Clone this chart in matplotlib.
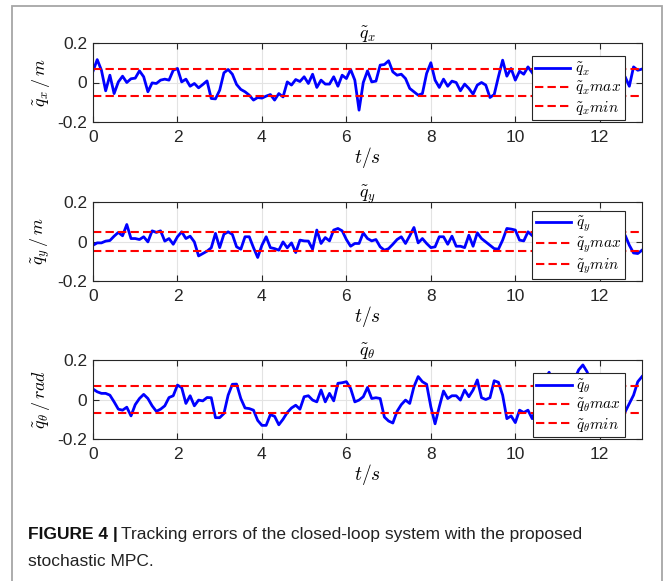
"""
plot.py
Tracking errors of the closed-loop system (three stacked panels) with caption.
"""

import numpy as np
import matplotlib
matplotlib.use('Agg')
import matplotlib.pyplot as plt
from matplotlib.patches import Rectangle

plt.rcParams['font.family'] = ['Liberation Sans', 'DejaVu Sans']
plt.rcParams['mathtext.fontset'] = 'cm'

# ---------- Data (0.1 s sampling) ----------
t = np.round(np.arange(0, 131) * 0.1, 1)

q_x = [0.057, 0.116, 0.062, -0.042, 0.037, -0.056, 0.003, 0.032, 0.000, 0.019,
       0.022, 0.059, 0.029, -0.047, -0.002, -0.005, 0.012, 0.017, 0.012, 0.062,
       0.071, 0.003, 0.017, -0.019, -0.005, -0.027, -0.010, 0.008, -0.081, -0.083,
       -0.039, 0.049, 0.066, 0.042, -0.010, -0.035, -0.047, -0.064, -0.089, -0.076,
       -0.079, -0.069, -0.061, -0.089, -0.056, -0.073, 0.003, -0.013, 0.015, 0.005,
       0.029, -0.005, 0.042, -0.025, 0.012, -0.008, -0.008, 0.029, -0.019, 0.037,
       0.020, 0.066, 0.012, -0.140, 0.000, 0.059, 0.003, 0.007, 0.088, 0.091,
       0.110, 0.054, 0.037, 0.042, 0.020, -0.030, -0.047, -0.064, -0.056, 0.046,
       0.100, 0.012, -0.025, 0.017, -0.019, 0.007, 0.000, -0.042, -0.008, -0.030,
       -0.059, -0.013, 0.000, -0.013, -0.076, -0.061, 0.029, 0.113, 0.032, 0.071,
       0.012, 0.057, 0.042, 0.079, 0.050, 0.020, 0.060, -0.010, 0.030, 0.050,
       -0.020, 0.010, 0.040, 0.000, -0.030, 0.020, 0.050, 0.010, -0.020, 0.030,
       0.000, 0.040, 0.020, -0.010, 0.030, 0.050, 0.029, -0.019, 0.079, 0.062,
       0.068]

q_y = [-0.019, -0.007, -0.007, 0.002, 0.005, 0.027, 0.046, 0.029, 0.086, 0.015,
       0.015, 0.010, 0.024, -0.002, 0.054, 0.046, 0.054, 0.002, 0.015, -0.014,
       0.024, 0.049, 0.015, 0.027, -0.002, -0.073, -0.061, -0.049, -0.032, 0.041,
       -0.031, 0.037, 0.049, 0.036, -0.027, -0.039, 0.024, 0.024, -0.031, -0.081,
       -0.019, 0.024, -0.031, -0.036, -0.044, -0.002, -0.032, -0.007, -0.056, 0.007,
       0.003, 0.002, -0.039, 0.058, -0.010, 0.020, 0.003, 0.058, 0.066, 0.054,
       0.010, -0.024, -0.010, -0.010, 0.044, 0.015, 0.003, 0.010, -0.027, -0.044,
       -0.036, -0.014, 0.010, 0.024, -0.010, 0.029, 0.071, -0.007, 0.015, -0.010,
       -0.031, -0.027, 0.024, 0.024, -0.014, 0.027, -0.024, -0.024, -0.031, 0.032,
       -0.024, 0.044, 0.015, -0.002, -0.019, -0.036, -0.039, 0.007, 0.066, 0.063,
       0.058, 0.007, 0.003, 0.049, 0.030, 0.010, -0.020, 0.020, 0.040, 0.000,
       -0.030, 0.010, 0.030, -0.010, 0.020, 0.040, 0.000, -0.020, 0.010, 0.030,
       -0.010, 0.020, 0.000, 0.030, 0.050, 0.040, 0.032, -0.019, -0.058, -0.061,
       -0.044]

q_theta = [0.053, 0.039, 0.031, 0.031, 0.022, -0.012, -0.049, -0.054, -0.039, -0.083,
           -0.026, 0.005, 0.026, 0.005, -0.032, -0.060, -0.049, -0.032, 0.010, 0.019,
           0.073, 0.060, -0.020, 0.019, -0.032, -0.003, -0.007, 0.010, 0.009, -0.092,
           -0.092, -0.071, 0.022, 0.077, 0.078, 0.005, -0.043, -0.046, -0.054, -0.106,
           -0.131, -0.131, -0.077, -0.085, -0.128, -0.100, -0.066, -0.043, -0.029, -0.049,
           0.014, 0.019, -0.003, -0.012, 0.048, -0.012, 0.031, -0.007, 0.082, 0.085,
           0.090, 0.056, -0.012, -0.003, 0.014, 0.061, 0.005, 0.009, 0.005, -0.089,
           -0.109, -0.119, -0.060, -0.026, -0.003, -0.020, 0.065, 0.116, 0.090, 0.077,
           -0.037, -0.123, -0.037, 0.043, 0.005, 0.019, 0.019, -0.003, 0.048, 0.014,
           0.048, 0.099, 0.009, 0.000, 0.009, 0.095, 0.087, 0.022, -0.097, -0.083,
           -0.117, -0.054, -0.066, -0.054, -0.097, -0.040, 0.050, 0.100, 0.138, 0.090,
           0.030, -0.020, 0.020, 0.060, 0.100, 0.150, 0.175, 0.140, 0.080, 0.020,
           -0.030, -0.060, -0.020, -0.050, -0.080, -0.090, -0.063, -0.020, 0.022, 0.090,
           0.116]

# symmetric bounds (max / min) for each error
bound_x = 0.068
bound_y = 0.046
bound_theta = 0.069

panels = [
    (q_x, bound_x, 'x', r'$\tilde{q}_x\,/\,m$'),
    (q_y, bound_y, 'y', r'$\tilde{q}_y\,/\,m$'),
    (q_theta, bound_theta, r'\theta', r'$\tilde{q}_\theta\,/\,rad$'),
]

# ---------- Figure ----------
W, H = 667, 581
fig = plt.figure(figsize=(W / 100, H / 100), dpi=100)

# outer grey frame
fig.add_artist(Rectangle((12 / W, -0.05), 650 / W, 1.05 - 6 / H,
                         transform=fig.transFigure, fill=False,
                         edgecolor='#a6a6a6', linewidth=1.3))

ax_left, ax_w, ax_h = 93 / W, 549 / W, 79 / H
bottoms_px = [122, 281, 439]
dark = '#262626'

for (vals, bnd, sub, ylab), bpx in zip(panels, bottoms_px):
    ax = fig.add_axes([ax_left, 1 - bpx / H, ax_w, ax_h])
    ax.plot(t, vals, color='#0000ff', linewidth=2.0,
            label=r'$\tilde{q}_{%s}$' % sub)
    ax.axhline(bnd, color='#ff0000', linestyle=(0, (4, 2)), linewidth=1.5,
               label=r'$\tilde{q}_{%s}max$' % sub)
    ax.axhline(-bnd, color='#ff0000', linestyle=(0, (4, 2)), linewidth=1.5,
               label=r'$\tilde{q}_{%s}min$' % sub)

    ax.set_xlim(0, 13)
    ax.set_ylim(-0.2, 0.2)
    ax.set_xticks([0, 2, 4, 6, 8, 10, 12])
    ax.set_yticks([-0.2, 0, 0.2])
    ax.set_yticklabels(['-0.2', '0', '0.2'])
    ax.grid(True, color='#e3e3e3', linewidth=0.8)
    ax.set_axisbelow(True)
    ax.tick_params(direction='in', top=True, right=True, length=4,
                   width=0.8, colors=dark, labelsize=12.5, pad=4)
    ax.tick_params(axis='x', pad=6)
    for sp in ax.spines.values():
        sp.set_color(dark)
        sp.set_linewidth(0.8)

    ax.set_title(r'$\tilde{q}_{%s}$' % sub, fontsize=13, pad=3)
    ax.set_xlabel(r'$t/s$', fontsize=14, labelpad=0)
    ax.set_ylabel(ylab, fontsize=13, labelpad=4)

    leg = ax.legend(loc='lower right', bbox_to_anchor=(0.969, 0.02),
                    fontsize=11, frameon=True, fancybox=False,
                    framealpha=1, edgecolor=dark, borderpad=0.25,
                    labelspacing=0.1, handlelength=2.3, handletextpad=0.3,
                    borderaxespad=0)
    leg.get_frame().set_linewidth(0.8)

# ---------- Caption ----------
cap_x, cap_y1, cap_y2 = 28 / W, 1 - 535 / H, 1 - 561 / H
cap_size = 12.5
bold = fig.text(cap_x, cap_y1, 'FIGURE 4 |', fontsize=cap_size, fontweight='bold',
                va='center', ha='left', color='#111111')
fig.canvas.draw()
bb = bold.get_window_extent(renderer=fig.canvas.get_renderer())
fig.text((bb.x1 + 3) / W, cap_y1,
         'Tracking errors of the closed-loop system with the proposed',
         fontsize=cap_size, va='center', ha='left', color='#222222')
fig.text(cap_x, cap_y2, 'stochastic MPC.', fontsize=cap_size, va='center',
         ha='left', color='#222222')

fig.savefig('out.png', dpi=100)
